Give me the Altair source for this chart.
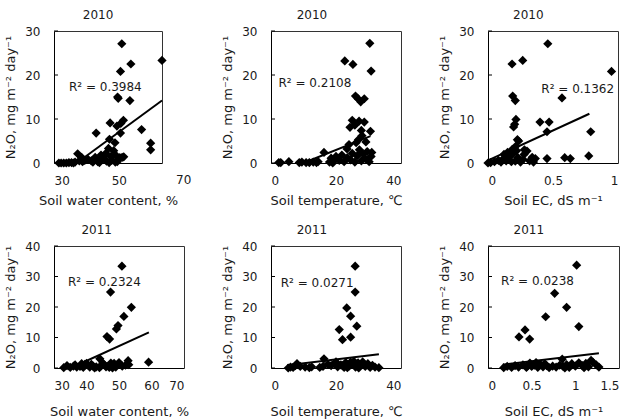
import altair as alt
import pandas as pd

FONT = "DejaVu Sans"
INK = "#1a1a1a"
FRAME = "#333333"

# ---- 2010: N2O flux against soil water content (%) ----
swc10_x = [50.9, 63.3, 53.7, 50.5, 49.6, 49.8, 53.4, 51.4, 50.6, 47.3, 49.4, 57.0, 43.0, 50.5,
           47.1, 48.8, 59.8, 59.8, 46.8, 48.4, 37.3, 38.5, 42.7, 44.5, 46.0, 47.6, 49.0, 50.3,
           51.5, 40.5, 41.5, 43.5, 44.8, 46.2, 47.8, 48.9, 45.5, 39.5, 37.8, 36.5, 31.5, 32.2,
           33.0, 33.8, 34.6, 35.4, 36.0, 38.8, 42.0, 44.0, 47.0, 49.5, 51.0]
swc10_y = [27.1, 23.3, 22.5, 20.8, 15.0, 14.7, 14.2, 9.7, 9.0, 9.1, 8.4, 7.6, 6.8, 6.8,
           5.4, 4.6, 4.5, 3.0, 3.3, 2.8, 2.1, 1.3, 1.3, 1.8, 2.2, 1.5, 1.8, 1.2,
           1.4, 0.8, 0.5, 0.3, 0.9, 0.4, 0.6, 0.2, 1.0, 0.6, 0.5, 0.2, 0.0, 0.0,
           0.0, 0.0, 0.1, 0.1, 0.0, 0.3, 0.2, 0.1, 0.1, 0.3, 1.3]

# ---- 2010: N2O flux against soil temperature (deg C) ----
st10_x = [30.4, 22.7, 25.2, 30.8, 26.0, 26.8, 28.7, 27.6, 25.0, 27.1, 28.7, 24.3, 25.8, 30.6,
          27.8, 26.9, 29.2, 16.3, 23.4, 2.4, 3.0, 5.5, 8.7, 9.5, 10.8, 11.8, 13.0, 14.0,
          14.5, 18.0, 18.5, 19.2, 20.0, 21.0, 21.8, 22.5, 23.5, 24.5, 25.0, 25.8, 26.5, 27.2,
          27.8, 28.3, 29.0, 29.6, 30.2, 30.8, 31.0, 24.0, 28.0, 26.2, 19.0]
st10_y = [27.2, 23.2, 22.4, 20.9, 15.2, 14.6, 14.6, 13.9, 9.7, 9.5, 9.3, 8.1, 8.6, 7.2,
          7.4, 5.3, 4.8, 2.4, 3.2, 0.1, 0.1, 0.3, 0.1, 0.2, 0.1, 0.1, 0.2, 0.1,
          0.3, 0.2, 1.1, 0.4, 1.5, 0.6, 1.8, 0.3, 1.2, 0.7, 2.2, 0.2, 1.6, 3.0,
          0.5, 2.1, 1.0, 2.6, 0.3, 1.5, 2.4, 4.2, 6.2, 4.6, 0.0]

# ---- 2010: N2O flux against soil EC (dS/m) ----
ec10_x = [0.46, 0.267, 0.185, 0.95, 0.569, 0.19, 0.21, 0.215, 0.197, 0.205, 0.40, 0.47, 0.454,
          0.79, 0.775, 0.454, 0.59, 0.633, 0.364, 0.34, 0.236, 0.226, 0.28, 0.30, 0.213, 0.187,
          0.277, 0.123, 0.0, 0.02, 0.05, 0.08, 0.10, 0.12, 0.14, 0.16, 0.18, 0.21, 0.23, 0.25,
          0.27, 0.32, 0.35, 0.15, 0.19, 0.22, 0.24]
ec10_y = [27.1, 23.3, 22.5, 20.8, 14.8, 15.2, 14.2, 9.9, 8.2, 8.8, 9.3, 9.3, 7.1,
          7.1, 1.6, 1.0, 1.2, 1.0, 1.0, 1.3, 5.0, 5.3, 3.0, 2.7, 3.8, 3.1,
          1.95, 1.96, 0.0, 0.1, 0.3, 0.6, 0.2, 1.0, 0.5, 1.5, 0.3, 0.45, 1.2, 0.2,
          0.8, 0.5, 0.2, 2.4, 2.0, 2.8, 0.7]

# ---- 2011: N2O flux against soil water content (%) ----
swc11_x = [50.9, 47.4, 53.8, 51.5, 49.7, 49.2, 46.3, 47.1, 59.1, 52.8, 53.0, 44.1, 40.0, 39.5,
           48.5, 50.0, 51.0, 47.5, 45.5, 44.5, 43.0, 42.0, 41.0, 40.5, 39.0, 38.0, 37.0, 36.0,
           35.0, 34.0, 33.0, 36.5, 46.0, 49.0, 52.0, 42.5, 44.0, 47.0, 48.0, 38.5, 41.5, 45.0]
swc11_y = [33.4, 24.9, 19.9, 16.9, 13.9, 12.8, 10.3, 9.5, 1.9, 2.4, 1.1, 3.0, 1.5, 1.2,
           1.5, 1.8, 0.6, 1.6, 1.0, 0.8, 0.4, 0.6, 0.3, 0.9, 0.2, 0.5, 0.3, 0.6,
           0.2, 0.8, 0.1, 1.0, 0.4, 0.3, 0.9, 0.0, 0.1, 0.2, 0.0, 1.4, 1.2, 1.6]

# ---- 2011: N2O flux against soil temperature (deg C) ----
st11_x = [25.9, 25.9, 23.3, 24.5, 26.4, 21.0, 22.0, 24.5, 16.3, 5.3, 6.0, 6.8, 7.5, 8.0,
          9.0, 10.5, 11.8, 15.0, 16.0, 17.5, 18.5, 19.5, 20.5, 21.5, 22.5, 23.0, 24.0, 25.0,
          26.0, 26.8, 27.5, 28.2, 29.0, 29.8, 30.5, 31.2, 32.0, 33.2, 27.0, 25.5, 23.5, 28.8,
          20.0, 22.0, 24.5, 12.5]
st11_y = [33.4, 24.9, 19.7, 17.0, 13.7, 12.6, 9.3, 10.1, 3.0, 0.0, 0.3, 0.2, 0.8, 1.4,
          0.5, 0.3, 0.1, 0.2, 0.5, 1.2, 0.8, 1.5, 0.4, 1.0, 0.2, 1.8, 0.6, 1.3,
          0.3, 1.7, 0.9, 2.0, 0.5, 1.4, 0.2, 0.9, 0.3, 0.1, 0.0, 2.2, 0.1, 1.2,
          2.0, 0.8, 1.9, 0.4]

# ---- 2011: N2O flux against soil EC (dS/m) ----
ec11_x = [1.015, 0.763, 0.90, 0.66, 1.04, 0.424, 0.355, 0.477, 0.85, 1.18, 0.18, 0.22, 0.27,
          0.31, 0.35, 0.40, 0.44, 0.48, 0.50, 0.53, 0.57, 0.60, 0.63, 0.67, 0.70, 0.74, 0.78,
          0.82, 0.86, 0.90, 0.93, 0.96, 1.00, 1.04, 1.08, 1.12, 1.15, 1.20, 1.24, 1.27, 0.55,
          0.45, 0.88, 0.65, 1.10]
ec11_y = [33.7, 24.5, 19.9, 16.8, 13.6, 12.5, 10.2, 9.5, 2.9, 2.5, 0.1, 0.5, 0.2,
          0.8, 0.3, 1.0, 0.2, 1.6, 0.5, 0.9, 0.2, 1.2, 0.4, 0.8, 0.1, 0.6, 0.3,
          0.9, 0.5, 1.1, 0.2, 1.4, 0.6, 1.7, 0.8, 1.5, 0.4, 1.9, 1.0, 0.3, 1.8,
          0.6, 0.0, 1.4, 0.1]

# Linear trend lines (end points) and their coefficients of determination
fit_swc10 = ([37.0, 63.3], [0.0, 14.2]); r2_swc10 = "0.3984"
fit_st10 = ([10.0, 30.6], [0.0, 6.1]);   r2_st10 = "0.2108"
fit_ec10 = ([0.0, 0.78], [0.6, 11.2]);   r2_ec10 = "0.1362"
fit_swc11 = ([35.2, 59.2], [0.0, 11.7]); r2_swc11 = "0.2324"
fit_st11 = ([5.0, 33.2], [0.9, 4.5]);    r2_st11 = "0.0271"
fit_ec11 = ([0.17, 1.27], [1.1, 4.8]);   r2_ec11 = "0.0238"

years = ["2010", "2011"]
x_titles = ["Soil water content, %", "Soil temperature, \u2103", "Soil EC, dS m\u207b\u00b9"]
y_title = "N\u2082O, mg m\u207b\u00b2 day\u207b\u00b9"

x_ticks_swc10 = [30, 50]
x_extra_swc10 = [70]          # axis label printed past the end of the plot frame
x_ticks_swc11 = [30, 40, 50, 60, 70]
x_ticks_st = [0, 20, 40]
x_ticks_ec10 = [0, 0.5, 1]
x_ticks_ec11 = [0, 0.5, 1, 1.5]
y_ticks10 = [0, 10, 20, 30]
y_ticks11 = [0, 10, 20, 30, 40]

panels = [
    dict(year=years[0], x=swc10_x, y=swc10_y, fit=fit_swc10, r2=r2_swc10, xt=x_titles[0],
         xdom=[30, 63.3], xticks=x_ticks_swc10, xextra=x_extra_swc10, ydom=[0, 30],
         yticks=y_ticks10, r2_at=(34.6, 17.2), w=108, h=132),
    dict(year=years[0], x=st10_x, y=st10_y, fit=fit_st10, r2=r2_st10, xt=x_titles[1],
         xdom=[0, 40], xticks=x_ticks_st, xextra=[], ydom=[0, 30], yticks=y_ticks10,
         r2_at=(2.3, 18.2), w=130, h=132),
    dict(year=years[0], x=ec10_x, y=ec10_y, fit=fit_ec10, r2=r2_ec10, xt=x_titles[2],
         xdom=[0, 1], xticks=x_ticks_ec10, xextra=[], ydom=[0, 30], yticks=y_ticks10,
         r2_at=(0.41, 16.9), w=130, h=132),
    dict(year=years[1], x=swc11_x, y=swc11_y, fit=fit_swc11, r2=r2_swc11, xt=x_titles[0],
         xdom=[30, 70], xticks=x_ticks_swc11, xextra=[], ydom=[0, 40], yticks=y_ticks11,
         r2_at=(34.3, 28.2), w=130, h=122),
    dict(year=years[1], x=st11_x, y=st11_y, fit=fit_st11, r2=r2_st11, xt=x_titles[1],
         xdom=[0, 40], xticks=x_ticks_st, xextra=[], ydom=[0, 40], yticks=y_ticks11,
         r2_at=(3.0, 28.0), w=130, h=122),
    dict(year=years[1], x=ec11_x, y=ec11_y, fit=fit_ec11, r2=r2_ec11, xt=x_titles[2],
         xdom=[0, 1.5], xticks=x_ticks_ec11, xextra=[], ydom=[0, 40], yticks=y_ticks11,
         r2_at=(0.15, 28.5), w=131, h=122),
]

LABEL_EXPR = "'' + datum.value"


def make_panel(p):
    top_row = p["year"] == years[0]
    xs = alt.Scale(domain=p["xdom"], nice=False, zero=False)
    ys = alt.Scale(domain=p["ydom"], nice=False, zero=False)
    common = dict(grid=False, ticks=False, tickSize=0, domainColor="black", domainWidth=1,
                  labelExpr=LABEL_EXPR, labelFont=FONT, labelFontSize=12, labelColor=INK,
                  titleFont=FONT, titleFontSize=13, titleFontWeight=400,
                  titleColor=INK)
    x_axis = alt.Axis(values=p["xticks"], title=p["xt"], labelPadding=12,
                      titlePadding=8 if top_row else 14, **common)
    y_axis = alt.Axis(values=p["yticks"], title=y_title, labelPadding=14,
                      titlePadding=7, **common)
    # top and right axes supply the remaining two sides of the plot frame
    edge = dict(orient=None, labels=False, ticks=False, grid=False, title="",
                domainColor=FRAME, domainWidth=1)
    top_axis = alt.Axis(**{**edge, "orient": "top"})
    right_axis = alt.Axis(**{**edge, "orient": "right"})

    X = alt.X("x:Q", scale=xs, axis=x_axis)
    Y = alt.Y("y:Q", scale=ys, axis=y_axis)
    Xt = alt.X("x:Q", scale=xs, axis=top_axis)
    Yr = alt.Y("y:Q", scale=ys, axis=right_axis)
    Xn = alt.X("x:Q", scale=xs, axis=None)
    Yn = alt.Y("y:Q", scale=ys, axis=None)

    points = alt.Chart(pd.DataFrame({"x": p["x"], "y": p["y"]})).mark_point(
        shape="diamond", filled=True, color="black", opacity=1, size=85
    ).encode(x=X, y=Y)

    trend = alt.Chart(pd.DataFrame({"x": p["fit"][0], "y": p["fit"][1]})).mark_line(
        color="black", strokeWidth=2
    ).encode(x=Xt, y=Yr)

    inner_ticks = alt.Chart(pd.DataFrame({"y": p["yticks"]})).mark_rule(
        color="black", strokeWidth=1
    ).encode(y=Yn, x=alt.value(0), x2=alt.value(4))

    r2_label = alt.Chart(pd.DataFrame({"x": [p["r2_at"][0]], "y": [p["r2_at"][1]],
                                       "t": ["R\u00b2 = " + p["r2"]]})).mark_text(
        align="left", baseline="middle", font=FONT, fontSize=12, color=INK
    ).encode(x=Xn, y=Yn, text="t:N")

    layers = [points, trend, inner_ticks, r2_label]
    if p["xextra"]:
        layers.append(alt.Chart(pd.DataFrame({
            "x": p["xextra"], "y": [p["ydom"][0]] * len(p["xextra"]),
            "t": [str(v) for v in p["xextra"]]})).mark_text(
            align="center", baseline="top", dy=12, font=FONT, fontSize=12, color=INK
        ).encode(x=Xn, y=Yn, text="t:N"))

    return alt.layer(*layers).resolve_axis(x="independent", y="independent").properties(
        width=p["w"], height=p["h"],
        title=alt.TitleParams(p["year"], font=FONT, fontSize=12, fontWeight=400,
                              color=INK, anchor="middle", frame="bounds", offset=3),
    )


chart = alt.concat(*[make_panel(p) for p in panels], columns=3,
                   spacing=alt.RowColnumber(row=83, column=87)).properties(
    bounds="flush", align="none", background="white",
    padding={"left": 4, "top": 8, "right": 0, "bottom": 0},
).configure_view(stroke="transparent")

chart.save("out.html", embed_options={"renderer": "svg", "actions": False})
